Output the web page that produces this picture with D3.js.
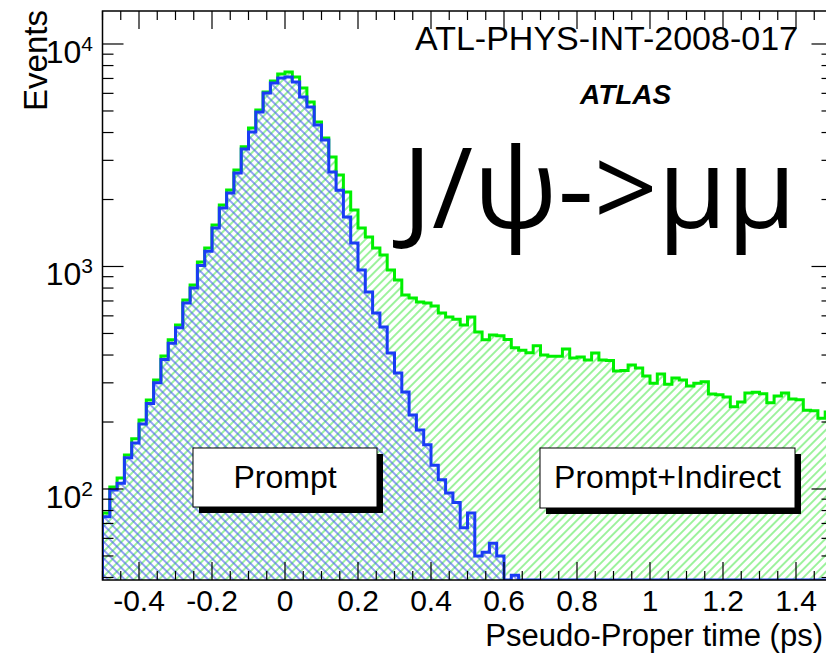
<!DOCTYPE html>
<html><head><meta charset="utf-8">
<script src="https://cdn.jsdelivr.net/npm/d3@7"></script>
<style>body{margin:0;background:#fff;} svg{display:block;}</style>
</head><body>
<svg id="c" width="826" height="656"></svg>
<script>
// ---- data ----
const binStart = -0.5, binWidth = 0.02, nBins = 100;
const totalCounts = [
  78,102,112,142,168,204,251,309,396,468,
  546,707,826,1047,1210,1537,1890,2206,2715,3450,
  4190,5050,6085,6820,7330,7485,7110,6345,5485,4460,
  3780,3105,2580,2160,1795,1489,1358,1211,1127,964,
  869,744,722,692,685,664,618,593,580,546,
  593,508,468,492,488,470,431,420,410,440,
  400,395,395,426,388,392,380,409,380,378,
  339,341,361,350,322,299,329,296,315,309,
  290,299,303,267,265,259,234,246,270,272,
  268,244,262,270,254,252,226,225,208,222
];
const promptCounts = [
  75,99,106,138,161,196,242,300,382,452,
  530,685,800,1010,1170,1490,1830,2140,2630,3375,
  4020,4945,6025,6685,7040,7110,6745,5780,5210,4325,
  3705,2660,2200,1668,1275,964,768,618,535,409,
  332,273,215,184,158,128,110,96,87,67,
  78,50,52,57,50,0,41,0,0,0,
  0,0,0,0,0,0,0,0,0,0,
  0,0,0,0,0,0,0,0,0,0,
  0,0,0,0,0,0,0,0,0,0,
  0,0,0,0,0,0,0,0,0,0
];
const xTickValues = [-0.4,-0.2,0,0.2,0.4,0.6,0.8,1,1.2,1.4];
const xTickLabels = ["-0.4","-0.2","0","0.2","0.4","0.6","0.8","1","1.2","1.4"];
const yTickValues = [100,1000,10000];
const yTickExponents = ["2","3","4"];
const legendLabels = ["Prompt","Prompt+Indirect"];
const xTitle = "Pseudo-Proper time (ps)";
const yTitle = "Events";
const noteText = "ATL-PHYS-INT-2008-017";
const atlasText = "ATLAS";
const bigText = "J/\u03c8->\u03bc\u03bc";

// ---- layout ----
const L = 102.5, R = 832.5, T = 11, B = 580;
const yMin = 38.99, yMax = 14070;
const x = d3.scaleLinear().domain([-0.5, 1.5]).range([L, R]);
const y = d3.scaleLog().domain([yMin, yMax]).range([B, T]);
const font = "'Liberation Sans', Arial, Helvetica, sans-serif";
const GREEN = "#00f000", BLUE = "#1a3cf5";

const svg = d3.select("#c");
svg.append("rect").attr("width", 826).attr("height", 656).attr("fill", "#fff");
const defs = svg.append("defs");
defs.append("clipPath").attr("id", "plotClip").append("rect")
  .attr("x", L).attr("y", T).attr("width", R - L).attr("height", B - T);
function hatch(id, angle, color) {
  const p = defs.append("pattern").attr("id", id).attr("patternUnits", "userSpaceOnUse")
    .attr("width", 5.9).attr("height", 10).attr("patternTransform", `rotate(${angle})`);
  p.append("line").attr("x1", 2.95).attr("y1", -1).attr("x2", 2.95).attr("y2", 11)
    .attr("stroke", color).attr("stroke-width", 1.05);
}
hatch("hGreen", 45, "#44e644");
hatch("hBlue", -45, "#3a50f0");

const edges = d3.range(nBins + 1).map(i => +(binStart + i * binWidth).toFixed(4));
function pts(counts) {
  const a = [[edges[0], yMin]];
  counts.forEach((v, i) => a.push([edges[i], Math.max(v, yMin)]));
  a.push([edges[nBins], Math.max(counts[nBins - 1], yMin)]);
  a.push([edges[nBins], yMin]);
  return a;
}
const line = d3.line().x(d => x(d[0])).y(d => y(d[1])).curve(d3.curveStepAfter);
const area = d3.area().x(d => x(d[0])).y0(B).y1(d => y(d[1])).curve(d3.curveStepAfter);

const plot = svg.append("g").attr("clip-path", "url(#plotClip)");
plot.append("path").attr("d", area(pts(totalCounts))).attr("fill", "url(#hGreen)");
plot.append("path").attr("d", area(pts(promptCounts))).attr("fill", "url(#hBlue)");
plot.append("path").attr("d", line(pts(totalCounts))).attr("fill", "none")
  .attr("stroke", GREEN).attr("stroke-width", 3);
plot.append("path").attr("d", line(pts(promptCounts))).attr("fill", "none")
  .attr("stroke", BLUE).attr("stroke-width", 3);

// ---- axes / frame ----
const axG = svg.append("g").attr("stroke", "#000");
const majX = 18, minX = 9, majY = 21, minY = 11;
const xMinor = d3.range(0, 41).map(i => +(-0.5 + i * 0.05).toFixed(3))
  .filter(v => !xTickValues.some(t => Math.abs(t - v) < 1e-6));
const yMinor = [];
[10, 100, 1000, 10000].forEach(d => { for (let k = 2; k <= 9; k++) { const v = k * d; if (v > yMin && v < yMax) yMinor.push(v); } });

function tick(x1, y1, x2, y2) {
  axG.append("line").attr("x1", x1).attr("y1", y1).attr("x2", x2).attr("y2", y2).attr("stroke-width", 1.2);
}
xTickValues.forEach(v => { tick(x(v), B, x(v), B - majX); tick(x(v), T, x(v), T + majX); });
xMinor.forEach(v => { tick(x(v), B, x(v), B - minX); tick(x(v), T, x(v), T + minX); });
yTickValues.forEach(v => { tick(L, y(v), L + majY, y(v)); tick(R, y(v), R - majY, y(v)); });
yMinor.forEach(v => { tick(L, y(v), L + minY, y(v)); tick(R, y(v), R - minY, y(v)); });
svg.append("rect").attr("x", L).attr("y", T).attr("width", R - L).attr("height", B - T)
  .attr("fill", "none").attr("stroke", "#000").attr("stroke-width", 1.5);

// tick labels
svg.append("g").selectAll("text").data(xTickValues).join("text")
  .attr("x", d => x(d)).attr("y", 611).attr("text-anchor", "middle")
  .attr("font-family", font).attr("font-size", 30).attr("fill", "#000")
  .text((d, i) => xTickLabels[i]);
const yl = svg.append("g").selectAll("text").data(yTickValues).join("text")
  .attr("x", 93).attr("y", d => y(d) + 19).attr("text-anchor", "end")
  .attr("font-family", font).attr("font-size", 32).attr("fill", "#000");
yl.append("tspan").text("10");
yl.append("tspan").attr("dy", -12).attr("font-size", 21).text((d, i) => yTickExponents[i]);

// titles
svg.append("text").attr("x", 823).attr("y", 646).attr("text-anchor", "end")
  .attr("font-family", font).attr("font-size", 31).text(xTitle);
svg.append("text").attr("transform", "translate(47,10) rotate(-90)").attr("text-anchor", "end")
  .attr("font-family", font).attr("font-size", 33).text(yTitle);

// annotations
svg.append("text").attr("x", 415).attr("y", 50).attr("font-family", font).attr("font-size", 34).text(noteText);
svg.append("text").attr("x", 580).attr("y", 104).attr("font-family", font).attr("font-size", 28)
  .attr("font-weight", "bold").attr("font-style", "italic").text(atlasText);
svg.append("text").attr("x", 402).attr("y", 228).attr("font-family", "'Open Sans', sans-serif")
  .attr("font-size", 112).text(bigText);

// legend boxes
const boxes = [
  {x0: 193, y0: 448, w: 184, h: 59},
  {x0: 540, y0: 448, w: 255, h: 60}
];
boxes.forEach((b, i) => {
  svg.append("rect").attr("x", b.x0 + 6).attr("y", b.y0 + 6).attr("width", b.w).attr("height", b.h).attr("fill", "#000");
  svg.append("rect").attr("x", b.x0).attr("y", b.y0).attr("width", b.w).attr("height", b.h)
    .attr("fill", "#fff").attr("stroke", "#000").attr("stroke-width", 1);
  svg.append("text").attr("x", b.x0 + b.w / 2).attr("y", b.y0 + 40).attr("text-anchor", "middle")
    .attr("font-family", font).attr("font-size", 32).text(legendLabels[i]);
});
</script>
</body></html>
